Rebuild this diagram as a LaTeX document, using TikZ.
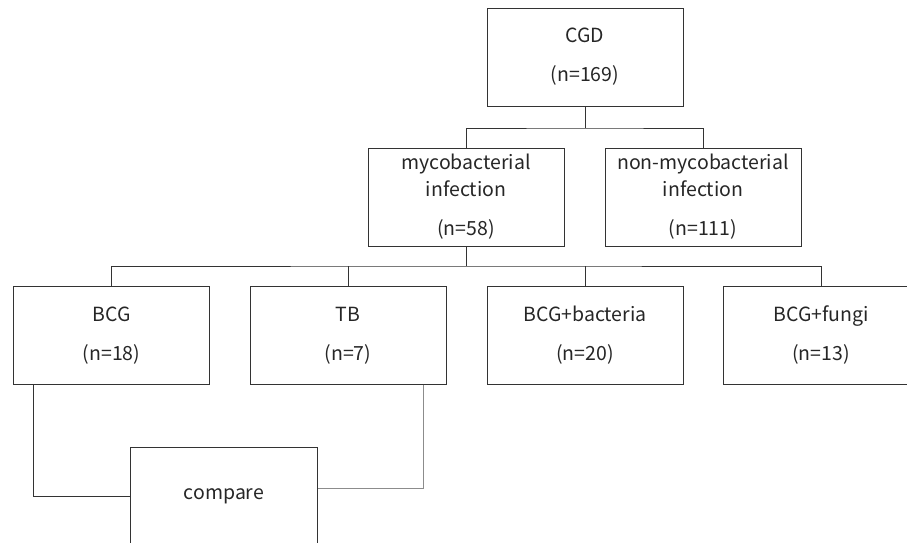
\documentclass[tikz,border=0pt]{standalone}
\usepackage{fontspec}
\setmainfont{Noto Sans CJK SC}
\usepackage{tikz}
\usetikzlibrary{positioning, calc}
\tikzset{
  box/.style={draw=black!80, line width=0.9pt, minimum width=196pt, minimum height=98pt,
    inner sep=0pt, align=center, text=black!85, font=\fontsize{19.5}{27}\selectfont},
  link/.style={draw=black!80, line width=0.9pt},
  faint/.style={draw=black!45, line width=0.9pt}
}

\begin{document}
\begin{tikzpicture}[x=1pt,y=-1pt]
  \useasboundingbox (0,0) rectangle (907,543);
  \clip (0,0) rectangle (907,543);
  \node[box] (cgd) at (585,57) {CGD\\[12pt](n=169)};
%---------------------------------------------------------------
  \node[box] (myco) at (466,197) {mycobacterial\\infection\\[12pt](n=58)};
  \node[box] (nonmyco) at (703,197) {non-mycobacterial\\infection\\[12pt](n=111)};
  \coordinate (bus1) at (585,128);
  \draw[link] (cgd) -- (bus1);
  \draw[link] (myco.north) |- (bus1) -| (nonmyco.north);
%---------------------------------------------------------------
  \node[box] (bcg) at (111.5,335.5) {BCG\\[12pt](n=18)};
  \node[box] (tb) at (348,335.5) {TB\\[12pt](n=7)};
  \node[box] (bcgbac) at (585,335.5) {BCG+bacteria\\[12pt](n=20)};
  \node[box] (bcgfun) at (821,335.5) {BCG+fungi\\[12pt](n=13)};
  \coordinate (bus2) at (466,266);
  \draw[link] (myco) -- (bus2);
  \draw[link] (bcg.north) |- (bus2) -| (bcgfun.north);
  \draw[link] (tb.north) -- (tb.north |- bus2);
  \draw[link] (bcgbac.north) -- (bcgbac.north |- bus2);
%---------------------------------------------------------------
  \node[box, minimum width=187pt] (cmp) at (224,496.7) {compare};
  \draw[link] (33.3,384.5) coordinate (bcgout) |- (cmp.west);
  \draw[faint] (423.3,384.5) coordinate (tbout) |- ($(cmp.east)+(0,-8.4)$);
\end{tikzpicture}
\end{document}
